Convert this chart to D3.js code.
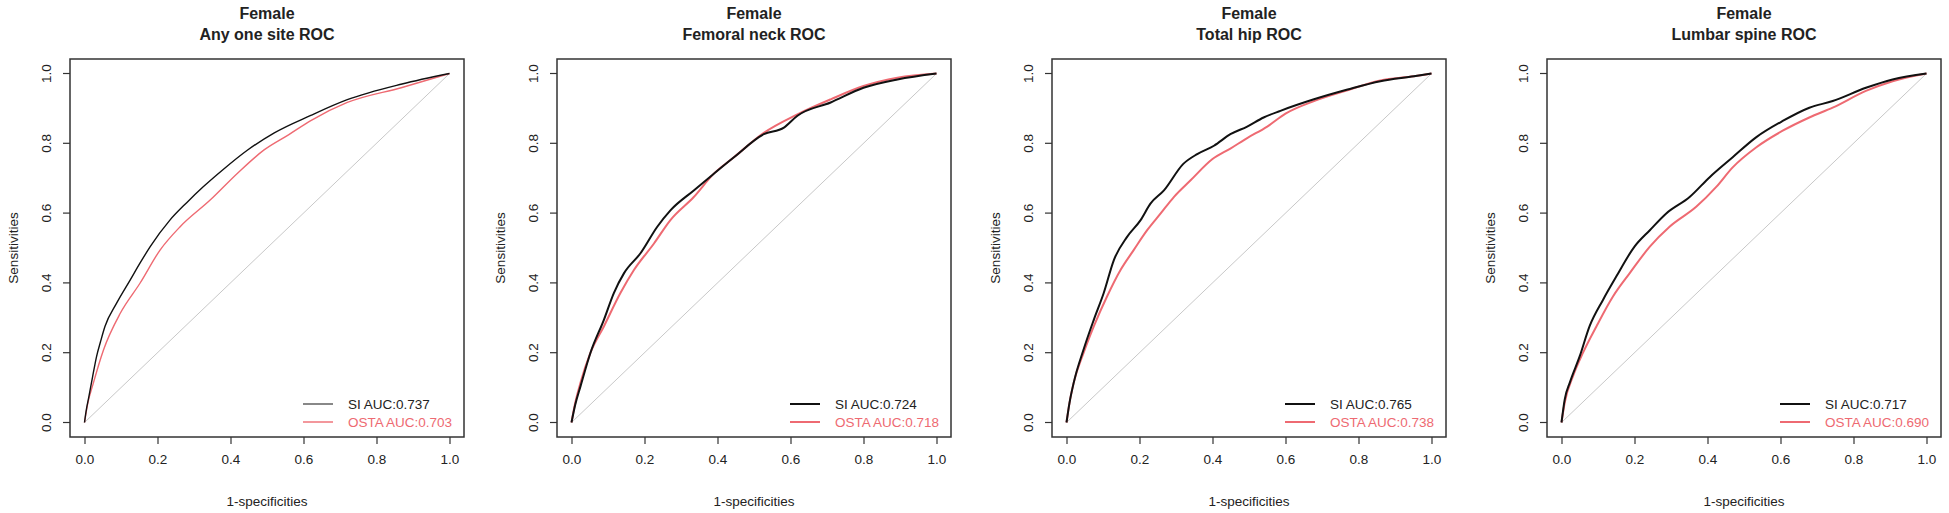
<!DOCTYPE html>
<html>
  <head>
    <meta charset="utf-8" />
    <title>Female ROC</title>
    <script src="https://cdn.jsdelivr.net/npm/d3@7"></script>
    <style type="text/css">
      body { margin: 0; background: #fff; }
      svg text { font-family: "Liberation Sans", Arial, sans-serif; fill: #222; }
    </style>
  </head>
  <body>
    <svg id="chart" width="1949" height="513"></svg>
    <script type="text/javascript">
      // panel titles + legend values
      var titles = ['Any one site ROC', 'Femoral neck ROC', 'Total hip ROC', 'Lumbar spine ROC'];
      var siAuc = ['0.737', '0.724', '0.765', '0.717'];
      var ostaAuc = ['0.703', '0.718', '0.738', '0.690'];
      var ticks = [0, 0.2, 0.4, 0.6, 0.8, 1.0];

      // ROC points: [1-specificity, sensitivity]
      var siAny = [[0,0],[0.004,0.03],[0.012,0.074],[0.022,0.13],[0.033,0.189],[0.044,0.232],[0.056,0.275],[0.088,0.342],[0.125,0.408],[0.154,0.46],[0.18,0.504],[0.234,0.58],[0.28,0.63],[0.326,0.676],[0.38,0.725],[0.446,0.78],[0.52,0.83],[0.62,0.88],[0.72,0.925],[0.87,0.97],[1,1]];
      var ostaAny = [[0,0],[0.008,0.05],[0.024,0.112],[0.052,0.208],[0.098,0.313],[0.152,0.399],[0.207,0.494],[0.262,0.561],[0.345,0.638],[0.42,0.715],[0.492,0.781],[0.56,0.825],[0.62,0.865],[0.72,0.917],[0.87,0.96],[1,1]];
      var siNeck = [[0,0],[0.01,0.05],[0.025,0.105],[0.052,0.20],[0.089,0.295],[0.116,0.371],[0.144,0.428],[0.189,0.485],[0.235,0.561],[0.271,0.608],[0.335,0.665],[0.39,0.713],[0.445,0.76],[0.527,0.826],[0.582,0.845],[0.619,0.879],[0.71,0.917],[0.80,0.959],[0.893,0.983],[1,1]];
      var ostaNeck = [[0,0],[0.01,0.055],[0.025,0.115],[0.052,0.20],[0.089,0.276],[0.134,0.371],[0.171,0.437],[0.226,0.513],[0.271,0.58],[0.335,0.646],[0.39,0.713],[0.445,0.76],[0.527,0.83],[0.619,0.883],[0.71,0.926],[0.80,0.964],[0.893,0.988],[1,1]];
      var siHip = [[0,0],[0.008,0.055],[0.02,0.115],[0.047,0.21],[0.075,0.295],[0.102,0.371],[0.13,0.466],[0.166,0.532],[0.203,0.58],[0.23,0.627],[0.267,0.665],[0.32,0.741],[0.358,0.769],[0.404,0.793],[0.449,0.826],[0.495,0.848],[0.54,0.874],[0.586,0.893],[0.678,0.926],[0.77,0.954],[0.86,0.978],[0.952,0.992],[1,1]];
      var ostaHip = [[0,0],[0.008,0.055],[0.02,0.115],[0.047,0.20],[0.075,0.276],[0.111,0.361],[0.148,0.437],[0.184,0.494],[0.221,0.551],[0.258,0.599],[0.294,0.646],[0.34,0.694],[0.40,0.755],[0.449,0.785],[0.495,0.815],[0.55,0.848],[0.60,0.885],[0.678,0.921],[0.77,0.952],[0.86,0.98],[0.952,0.992],[1,1]];
      var siSpine = [[0,0],[0.009,0.067],[0.023,0.115],[0.05,0.19],[0.077,0.276],[0.114,0.352],[0.15,0.418],[0.2,0.504],[0.242,0.551],[0.287,0.599],[0.351,0.646],[0.406,0.703],[0.469,0.76],[0.533,0.817],[0.606,0.864],[0.679,0.902],[0.743,0.921],[0.834,0.959],[0.907,0.983],[1,1]];
      var ostaSpine = [[0,0],[0.009,0.058],[0.032,0.134],[0.059,0.20],[0.096,0.276],[0.141,0.361],[0.187,0.428],[0.242,0.504],[0.296,0.561],[0.369,0.618],[0.424,0.675],[0.469,0.731],[0.533,0.788],[0.606,0.836],[0.679,0.874],[0.743,0.902],[0.834,0.95],[0.907,0.978],[1,1]];

      var siCurves = [siAny, siNeck, siHip, siSpine];
      var ostaCurves = [ostaAny, ostaNeck, ostaHip, ostaSpine];

      var red = '#ee6a72';
      var panelLeft = [70, 557, 1052, 1547];
      var lineW = [1.4, 2, 2, 2];
      var boxW = 394, boxH = 378, boxTop = 59;
      var pad = 14.5; // R's 4% axis extension

      var svg = d3.select('#chart');

      panelLeft.forEach(function (left, i) {
        var g = svg.append('g').attr('transform', 'translate(' + left + ',0)');

        var scX = d3.scaleLinear().domain([0, 1]).range([pad, boxW - pad]);
        var scY = d3.scaleLinear().domain([0, 1]).range([boxTop + boxH - pad, boxTop + pad]);

        // titles
        g.append('text').attr('x', boxW / 2).attr('y', 19)
          .attr('text-anchor', 'middle').attr('font-size', 16).attr('font-weight', 'bold')
          .text('Female');
        g.append('text').attr('x', boxW / 2).attr('y', 40)
          .attr('text-anchor', 'middle').attr('font-size', 16).attr('font-weight', 'bold')
          .text(titles[i]);

        // diagonal reference
        g.append('path')
          .attr('fill', 'none').attr('stroke', '#c8c8c8').attr('stroke-width', 1)
          .attr('d', d3.line().x((d) => scX(d[0])).y((d) => scY(d[1]))([[0, 0], [1, 1]]));

        var lineMaker = d3.line()
          .curve(d3.curveMonotoneX)
          .x((d) => scX(d[0]))
          .y((d) => scY(d[1]));

        g.append('path')
          .attr('fill', 'none').attr('stroke', red).attr('stroke-width', lineW[i])
          .attr('d', lineMaker(ostaCurves[i]));
        g.append('path')
          .attr('fill', 'none').attr('stroke', '#111').attr('stroke-width', lineW[i])
          .attr('d', lineMaker(siCurves[i]));

        // box
        g.append('rect')
          .attr('x', 0).attr('y', boxTop).attr('width', boxW).attr('height', boxH)
          .attr('fill', 'none').attr('stroke', '#333').attr('stroke-width', 1.5);

        // axes (R style: ticks outside)
        var ax = g.append('g').attr('transform', 'translate(0,' + (boxTop + boxH) + ')')
          .call(d3.axisBottom(scX).tickValues(ticks).tickFormat(d3.format('.1f')).tickSize(7).tickPadding(10));
        var ay = g.append('g')
          .call(d3.axisLeft(scY).tickValues(ticks).tickFormat(d3.format('.1f')).tickSize(7).tickPadding(6));
        [ax, ay].forEach(function (a) {
          a.select('.domain').remove();
          a.selectAll('line').attr('stroke', '#333').attr('stroke-width', 1.2);
          a.selectAll('text').attr('font-size', 13.5).attr('font-family', '"Liberation Sans", Arial, sans-serif').attr('fill', '#222');
        });
        // rotate y tick labels like R's las=0
        ay.selectAll('text')
          .attr('text-anchor', 'middle').attr('x', null).attr('dy', null)
          .attr('transform', (d) => 'translate(-19,' + scY(d) + ') rotate(-90)')
          .attr('y', 0);
        ay.selectAll('.tick').attr('transform', null);
        ay.selectAll('.tick line').attr('transform', (d) => 'translate(0,' + scY(d) + ')');

        // axis titles
        g.append('text').attr('x', boxW / 2).attr('y', 506)
          .attr('text-anchor', 'middle').attr('font-size', 13.5).text('1-specificities');
        g.append('text')
          .attr('transform', 'translate(-52,' + (boxTop + boxH / 2) + ') rotate(-90)')
          .attr('text-anchor', 'middle').attr('font-size', 13.5).text('Sensitivities');

        // legend
        var leg = g.append('g');
        var rows = [
          { label: 'SI AUC:' + siAuc[i], color: i === 0 ? '#555' : '#111', y: 404 },
          { label: 'OSTA AUC:' + ostaAuc[i], color: red, y: 422 }
        ];
        rows.forEach(function (r) {
          leg.append('line')
            .attr('x1', 233).attr('x2', 263).attr('y1', r.y).attr('y2', r.y)
            .attr('stroke', r.color).attr('stroke-width', lineW[i]);
          leg.append('text')
            .attr('x', 278).attr('y', r.y).attr('dy', '0.35em')
            .attr('font-size', 13.5)
            .style('fill', r.color === red ? red : '#222')
            .text(r.label);
        });
      });
    </script>
  </body>
</html>
